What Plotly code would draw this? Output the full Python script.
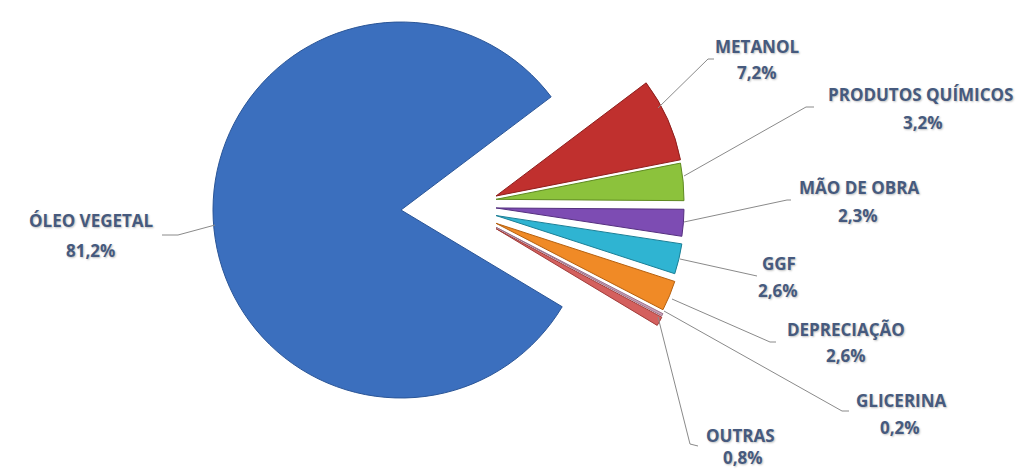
import plotly.graph_objects as go
import math

# ---------------- data ----------------
labels = ["METANOL", "PRODUTOS QUÍMICOS", "MÃO DE OBRA", "GGF",
          "DEPRECIAÇÃO", "GLICERINA", "OUTRAS", "ÓLEO VEGETAL"]
values = [7.2, 3.2, 2.3, 2.6, 2.6, 0.2, 0.8, 81.2]
pct_text = ["7,2%", "3,2%", "2,3%", "2,6%", "2,6%", "0,2%", "0,8%", "81,2%"]
colors = ["#c0302e", "#8cc23c", "#7d4cb3", "#2fb4d2", "#f08a26",
          "#c9a0b8", "#d4605e", "#3b6fbe"]
edge_colors = ["#8e1f1d", "#5f8a22", "#55307f", "#1b7f96", "#b5600f",
               "#9a7088", "#a03c3a", "#2a5597"]

# ---------------- layout constants ----------------
W, H = 1024, 471
CX, CY, R = 393, 202, 188          # centre / radius of the main pie (px)
START_DEG = 37                     # angle (ccw from east) where first slice starts
PULL_X, PULL_Y, LIFT = 95, 50, 6   # explosion of the small slices (px)

TXT_COLOR = "#465a7e"
FONT = "Open Sans"
Y_FIX = -6                         # compensation for annotation box offset

# label text positions (px): name line centre, percent line centre
label_pos = {
    "METANOL": ((749, 45), (749, 71)),
    "PRODUTOS QUÍMICOS": ((912, 93), (915, 121)),
    "MÃO DE OBRA": ((851, 185), (850, 213)),
    "GGF": ((771, 261), (770, 288)),
    "DEPRECIAÇÃO": ((838, 327), (838, 353)),
    "GLICERINA": ((893, 398), (892, 425)),
    "OUTRAS": ((732, 433), (735, 455)),
    "ÓLEO VEGETAL": ((83, 218), (82, 248)),
}
# leader line paths (px)
leader = {
    "METANOL": [(650, 100), (700, 51), (706, 51)],
    "PRODUTOS QUÍMICOS": [(676, 168), (798, 99), (806, 99)],
    "MÃO DE OBRA": [(676, 214), (779, 192), (783, 192)],
    "GGF": [(672, 251), (749, 268)],
    "DEPRECIAÇÃO": [(664, 291), (762, 334), (768, 334)],
    "GLICERINA": [(656, 303), (834, 403), (841, 403)],
    "OUTRAS": [(650, 309), (682, 436), (690, 438)],
    "ÓLEO VEGETAL": [(154, 227), (170, 227), (207, 217)],
}


def px(x):
    return x / W


def py(y):
    return 1 - y / H


fig = go.Figure()
total = sum(values)
rotation = 90 - START_DEG

order = [len(values) - 1] + list(range(len(values) - 1))  # draw big slice first
cum = [sum(values[:i]) for i in range(len(values))]

for i in order:
    if i == len(values) - 1:
        cx, cy = CX, CY
    else:
        mid = math.radians(START_DEG - 360 * (cum[i] + values[i] / 2) / total)
        cx = CX + PULL_X
        cy = CY - (LIFT + PULL_Y * math.sin(mid))
        cy = max(cy, R)
    cols = ["rgba(0,0,0,0)"] * len(values)
    cols[i] = colors[i]
    lcols = ["rgba(0,0,0,0)"] * len(values)
    lcols[i] = edge_colors[i]
    lw = [0] * len(values)
    lw[i] = 1
    fig.add_trace(go.Pie(
        labels=labels, values=values, sort=False, direction="clockwise",
        rotation=rotation, textinfo="none", hoverinfo="skip",
        marker=dict(colors=cols, line=dict(color=lcols, width=lw)),
        domain=dict(x=[max(0, px(cx - R)), min(1, px(cx + R))],
                    y=[max(0, py(cy + R)), min(1, py(cy - R))]),
        showlegend=False,
    ))

shapes = []
for lab, pts in leader.items():
    path = "M " + " L ".join(f"{px(x)},{py(y)}" for x, y in pts)
    shapes.append(dict(type="path", path=path, xref="paper", yref="paper",
                       line=dict(color="#8a8a8a", width=1)))

annotations = []
for lab, pct in zip(labels, pct_text):
    (nx, ny), (qx, qy) = label_pos[lab]
    for txt, (x, y) in ((lab, (nx, ny)), (pct, (qx, qy))):
        annotations.append(dict(
            text=f"<b>{txt}</b>", x=px(x), y=py(y + Y_FIX),
            xref="paper", yref="paper",
            xanchor="center", yanchor="middle", showarrow=False,
            font=dict(family=FONT, size=17, color=TXT_COLOR,
                      shadow="1px 1px 2px rgba(0,0,0,0.25)"),
        ))

fig.update_layout(
    width=W, height=H,
    margin=dict(l=0, r=0, t=0, b=0),
    paper_bgcolor="white", plot_bgcolor="white",
    shapes=shapes, annotations=annotations,
)

fig.write_html("out.html")
